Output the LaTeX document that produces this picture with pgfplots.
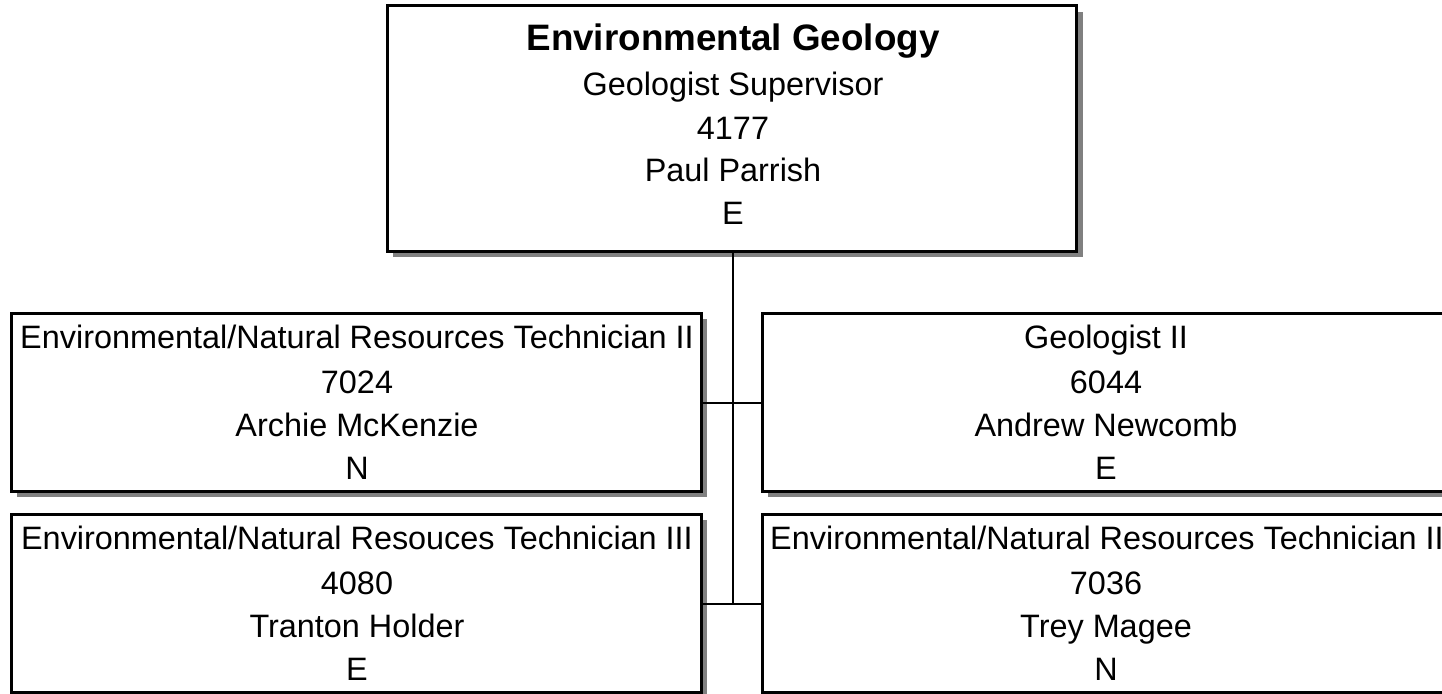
\documentclass[border=0pt]{standalone}
\usepackage{pgfplots}
\pgfplotsset{compat=1.18}
\usepackage{fontspec}
\setmainfont{Liberation Sans}
\tikzset{lbl/.style={font=\fontsize{16.2bp}{19bp}\selectfont, anchor=base, inner sep=0pt}}
\begin{document}
\begin{tikzpicture}
\begin{axis}[
  scale only axis, width=721bp, height=347bp,
  xmin=0, xmax=1442, ymin=0, ymax=694, y dir=reverse,
  hide axis, clip=true,
]
% shadows
\addplot[fill=gray, draw=none] coordinates {(393,12) (1083,12) (1083,257) (393,257)} --cycle;
\addplot[fill=gray, draw=none] coordinates {(17,319) (707,319) (707,497) (17,497)} --cycle;
\addplot[fill=gray, draw=none] coordinates {(17,520) (707,520) (707,700) (17,700)} --cycle;
\addplot[fill=gray, draw=none] coordinates {(768,319) (1457,319) (1457,497) (768,497)} --cycle;
\addplot[fill=gray, draw=none] coordinates {(768,520) (1457,520) (1457,700) (768,700)} --cycle;
% connectors
\addplot[black, line width=1.1bp] coordinates {(733,251) (733,604)};
\addplot[black, line width=1.1bp] coordinates {(701,403) (762,403)};
\addplot[black, line width=1.1bp] coordinates {(701,604) (762,604)};
% boxes
\addplot[fill=white, draw=black, line width=1.5bp] coordinates {(387,6) (1076,6) (1076,251) (387,251)} --cycle;
\addplot[fill=white, draw=black, line width=1.5bp] coordinates {(11,313) (701,313) (701,491) (11,491)} --cycle;
\addplot[fill=white, draw=black, line width=1.5bp] coordinates {(11,514) (701,514) (701,692.5) (11,692.5)} --cycle;
\addplot[fill=white, draw=black, line width=1.5bp] coordinates {(762,313) (1451,313) (1451,491) (762,491)} --cycle;
\addplot[fill=white, draw=black, line width=1.5bp] coordinates {(762,514) (1451,514) (1451,692.5) (762,692.5)} --cycle;
% top box text
\node[lbl, font=\fontsize{18.4bp}{21bp}\selectfont\bfseries] at (axis cs:733,51) {Environmental Geology};
\node[lbl] at (axis cs:733,95.5) {Geologist Supervisor};
\node[lbl] at (axis cs:733,139.5) {4177};
\node[lbl] at (axis cs:733,181.5) {Paul Parrish};
\node[lbl] at (axis cs:733,224.5) {E};
% left row 1
\node[lbl] at (axis cs:357,348) {Environmental/Natural Resources Technician II};
\node[lbl] at (axis cs:357,393) {7024};
\node[lbl] at (axis cs:357,436) {Archie McKenzie};
\node[lbl] at (axis cs:357,479) {N};
% left row 2
\node[lbl] at (axis cs:357,549) {Environmental/Natural Resouces Technician III};
\node[lbl] at (axis cs:357,594) {4080};
\node[lbl] at (axis cs:357,637) {Tranton Holder};
\node[lbl] at (axis cs:357,680) {E};
% right row 1
\node[lbl] at (axis cs:1106,348) {Geologist II};
\node[lbl] at (axis cs:1106,393) {6044};
\node[lbl] at (axis cs:1106,436) {Andrew Newcomb};
\node[lbl] at (axis cs:1106,479) {E};
% right row 2
\node[lbl] at (axis cs:1107,549) {Environmental/Natural Resources Technician II};
\node[lbl] at (axis cs:1106,594) {7036};
\node[lbl] at (axis cs:1106,637) {Trey Magee};
\node[lbl] at (axis cs:1106,680) {N};
\end{axis}
\pgfresetboundingbox
\useasboundingbox (current axis.south west) rectangle (current axis.north east);
\end{tikzpicture}
\end{document}
